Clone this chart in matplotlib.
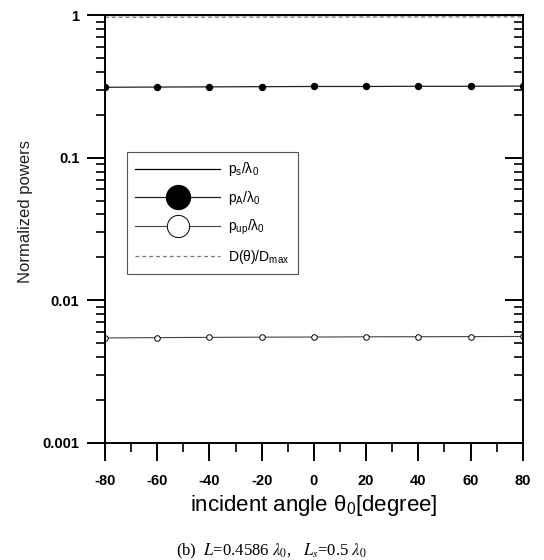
import numpy as np
import matplotlib
matplotlib.use("Agg")
import matplotlib.pyplot as plt
from matplotlib.ticker import FixedLocator, LogLocator, NullFormatter, MultipleLocator

angles = [-80, -60, -40, -20, 0, 20, 40, 60, 80]
p_s = [1.0, 1.0, 1.0, 1.0, 1.0, 1.0, 1.0, 1.0, 1.0]
p_A = [0.312, 0.313, 0.314, 0.315, 0.316, 0.316, 0.317, 0.317, 0.318]
p_up = [0.00545, 0.00548, 0.0055, 0.00552, 0.00553, 0.00555, 0.00556, 0.00557, 0.00558]
D_ratio = [0.965, 0.966, 0.967, 0.968, 0.968, 0.969, 0.970, 0.971, 0.972]

y_ticks = [0.001, 0.01, 0.1, 1]
y_ticklabels = ['0.001', '0.01', '0.1', '1']

plt.rcParams['font.family'] = ['Liberation Sans', 'DejaVu Sans']
plt.rcParams['mathtext.fontset'] = 'custom'
plt.rcParams['mathtext.rm'] = 'Liberation Sans'
plt.rcParams['mathtext.it'] = 'Liberation Sans:italic'
plt.rcParams['mathtext.bf'] = 'Liberation Sans:bold'
plt.rcParams['axes.unicode_minus'] = False

fig = plt.figure(figsize=(5.44, 5.60), dpi=100)
ax = fig.add_axes([0.193, 0.209, 0.768, 0.764])

ax.plot(angles, p_s, color='black', lw=0.9, label=r'$\mathregular{p_s/\lambda_0}$')
ax.plot(angles, p_A, color='#222222', lw=0.9, marker='o', ms=4.3, mfc='black', mec='black',
        label=r'$\mathregular{p_A/\lambda_0}$')
ax.plot(angles, p_up, color='#444444', lw=0.8, marker='o', ms=4.0, mfc='white', mec='black', mew=0.7,
        label=r'$\mathregular{p_{up}/\lambda_0}$')
ax.plot(angles, D_ratio, color='#777777', lw=0.9, ls=(0, (3, 2.5)),
        label=r'$\mathregular{D(\theta)/D_{max}}$')

ax.set_yscale('log')
ax.set_ylim(0.001, 1)
ax.set_xlim(-80, 80)
ax.yaxis.set_major_locator(FixedLocator(y_ticks))
ax.set_yticklabels(y_ticklabels)
ax.yaxis.set_minor_locator(LogLocator(base=10, subs=np.arange(2, 10)))
ax.yaxis.set_minor_formatter(NullFormatter())
ax.xaxis.set_major_locator(MultipleLocator(20))
ax.xaxis.set_minor_locator(MultipleLocator(10))

for sp in ax.spines.values():
    sp.set_linewidth(1.4)

ax.tick_params(axis='both', which='major', direction='out', length=13, width=1.4)
ax.tick_params(axis='both', which='minor', direction='out', length=6.5, width=1.2)
ax.tick_params(axis='x', pad=9)
ax.tick_params(axis='y', pad=5.5)
for t in ax.get_xticklabels() + ax.get_yticklabels():
    t.set_fontweight('bold')
    t.set_fontsize(10.5)

# right-side inward ticks
ax2 = ax.twinx()
ax2.set_yscale('log')
ax2.set_ylim(ax.get_ylim())
ax2.yaxis.set_major_locator(FixedLocator(y_ticks))
ax2.yaxis.set_minor_locator(LogLocator(base=10, subs=np.arange(2, 10)))
ax2.yaxis.set_major_formatter(NullFormatter())
ax2.yaxis.set_minor_formatter(NullFormatter())
ax2.tick_params(axis='y', which='major', direction='in', length=13, width=1.4)
ax2.tick_params(axis='y', which='minor', direction='in', length=6.5, width=1.2)
for sp in ax2.spines.values():
    sp.set_visible(False)

ax.set_xlabel(r'incident angle $\mathregular{\theta_0}$[degree]', fontsize=16, labelpad=4)
ax.set_ylabel('Normalized powers', fontsize=12, color='#222222')
ax.yaxis.set_label_coords(-0.172, 0.54)

leg = ax.legend(loc='upper left', bbox_to_anchor=(0.0526, 0.680), borderaxespad=0,
                frameon=True, fancybox=False,
                edgecolor='#555555', framealpha=1, fontsize=10, handlelength=6.1,
                markerscale=4.0, labelspacing=0.78, borderpad=0.6, handletextpad=0.6)
leg.get_frame().set_linewidth(0.8)
leg.set_zorder(5)

fig.text(0.5, 0.008, r'(b)  $L$=0.4586 $\lambda_0$,   $L_s$=0.5 $\lambda_0$',
         ha='center', fontsize=12, family='Liberation Serif', math_fontfamily='stix')

fig.savefig('out.png', dpi=100)
